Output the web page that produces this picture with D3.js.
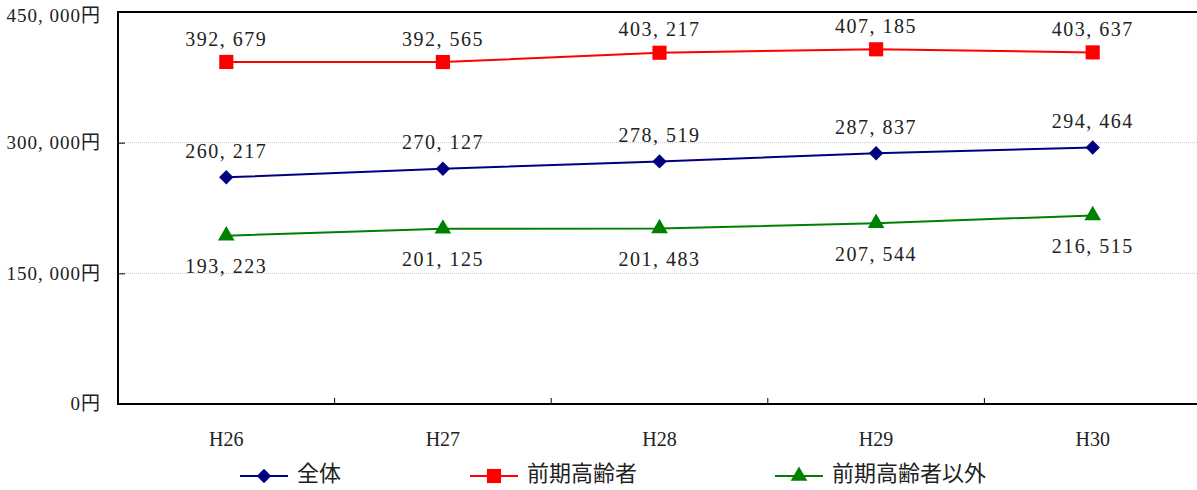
<!DOCTYPE html>
<html>
<head>
<meta charset="utf-8">
<script src="https://cdn.jsdelivr.net/npm/d3@7"></script>
<style>
  body { margin: 0; background: #fff; }
  text { font-family: "Liberation Serif", "DejaVu Serif", "Noto Sans CJK JP", serif; fill: #222; }
</style>
</head>
<body>
<div id="chart"></div>
<script>
const years = ["H26", "H27", "H28", "H29", "H30"];
const zentai = [260217, 270127, 278519, 287837, 294464];
const zenki = [392679, 392565, 403217, 407185, 403637];
const zenkiIgai = [193223, 201125, 201483, 207544, 216515];
const yTicks = [0, 150000, 300000, 450000];

const width = 1197;
const height = 490;

const svg = d3.select("#chart")
  .append("svg")
  .attr("width", width)
  .attr("height", height);

// plot area
const plotLeft = 118, plotTop = 12, plotBottom = 404;

const xScale = d3.scaleBand()
  .domain(years)
  .range([plotLeft, plotLeft + 5 * 216.6]);

const yScale = d3.scaleLinear()
  .domain([0, 450000])
  .range([plotBottom, plotTop]);

// format like 392, 679
const fmt = v => d3.format(",")(v).replace(",", ", ");

// gridlines
svg.append("g")
  .selectAll("line")
  .data(yTicks.filter(t => t > 0 && t < 450000))
  .enter()
  .append("line")
  .attr("x1", plotLeft)
  .attr("x2", width)
  .attr("y1", d => yScale(d))
  .attr("y2", d => yScale(d))
  .attr("stroke", "#c8c8c8")
  .attr("stroke-width", 1)
  .attr("stroke-dasharray", "1,1");

// y axis ticks (inside)
const yAxis = d3.axisRight(yScale)
  .tickValues(yTicks.filter(t => t > 0 && t < 450000))
  .tickSize(7)
  .tickFormat("");

svg.append("g")
  .attr("transform", `translate(${plotLeft},0)`)
  .call(yAxis)
  .call(g => g.select(".domain").remove())
  .call(g => g.selectAll("line").attr("stroke", "#000"));

// y labels
svg.append("g")
  .selectAll("text")
  .data(yTicks)
  .enter()
  .append("text")
  .attr("x", 101)
  .attr("y", d => yScale(d) + (d === 450000 ? 6 : 2))
  .attr("text-anchor", "end")
  .attr("dominant-baseline", "middle")
  .attr("font-size", 19)
  .attr("letter-spacing", 1)
  .text(d => fmt(d) + "円");

// x axis ticks (inside, at band boundaries)
svg.append("g")
  .selectAll("line")
  .data(years.slice(1))
  .enter()
  .append("line")
  .attr("x1", d => xScale(d))
  .attr("x2", d => xScale(d))
  .attr("y1", plotBottom)
  .attr("y2", plotBottom - 6)
  .attr("stroke", "#000");

// x labels
svg.append("g")
  .selectAll("text")
  .data(years)
  .enter()
  .append("text")
  .attr("x", d => xScale(d) + xScale.bandwidth() / 2)
  .attr("y", 441)
  .attr("text-anchor", "middle")
  .attr("dominant-baseline", "middle")
  .attr("font-size", 20)
  .text(d => d);

// frame
svg.append("path")
  .attr("d", `M${width},${plotTop}H${plotLeft}V${plotBottom}H${width}`)
  .attr("fill", "none")
  .attr("stroke", "#000")
  .attr("stroke-width", 2);

const series = [
  { name: "全体", values: zentai, color: "#000080", shape: d3.symbolDiamond, size: 60, sx: 1.73, labelDy: -24 },
  { name: "前期高齢者", values: zenki, color: "#ff0000", shape: d3.symbolSquare, size: 200, sx: 1, labelDy: -21 },
  { name: "前期高齢者以外", values: zenkiIgai, color: "#008000", shape: d3.symbolTriangle, size: 120, sx: 1, labelDy: 33 }
];

const cx = i => xScale(years[i]) + xScale.bandwidth() / 2;

const line = d3.line()
  .x((d, i) => cx(i))
  .y(d => yScale(d));

series.forEach(s => {
  svg.append("path")
    .datum(s.values)
    .attr("d", line)
    .attr("fill", "none")
    .attr("stroke", s.color)
    .attr("stroke-width", 2);

  svg.append("g")
    .selectAll("path")
    .data(s.values)
    .enter()
    .append("path")
    .attr("d", d3.symbol().type(s.shape).size(s.size))
    .attr("transform", (d, i) => `translate(${cx(i)},${yScale(d)}) scale(${s.sx},1)`)
    .attr("fill", s.color);

  svg.append("g")
    .selectAll("text")
    .data(s.values)
    .enter()
    .append("text")
    .attr("x", (d, i) => cx(i))
    .attr("y", d => yScale(d) + s.labelDy)
    .attr("text-anchor", "middle")
    .attr("dominant-baseline", "middle")
    .attr("font-size", 20)
    .attr("letter-spacing", 1.5)
    .text(d => fmt(d));
});

// legend
const legendX = [240, 470, 775];
const legend = svg.append("g");
series.forEach((s, i) => {
  const g = legend.append("g").attr("transform", `translate(${legendX[i]},476)`);
  g.append("line")
    .attr("x1", 0).attr("x2", 48)
    .attr("stroke", s.color).attr("stroke-width", 2);
  g.append("path")
    .attr("d", d3.symbol().type(s.shape).size(s.size))
    .attr("transform", `translate(24,0) scale(${s.sx},1)`)
    .attr("fill", s.color);
  g.append("text")
    .attr("x", 57)
    .attr("dominant-baseline", "middle")
    .attr("font-size", 22)
    .text(s.name);
});
</script>
</body>
</html>
